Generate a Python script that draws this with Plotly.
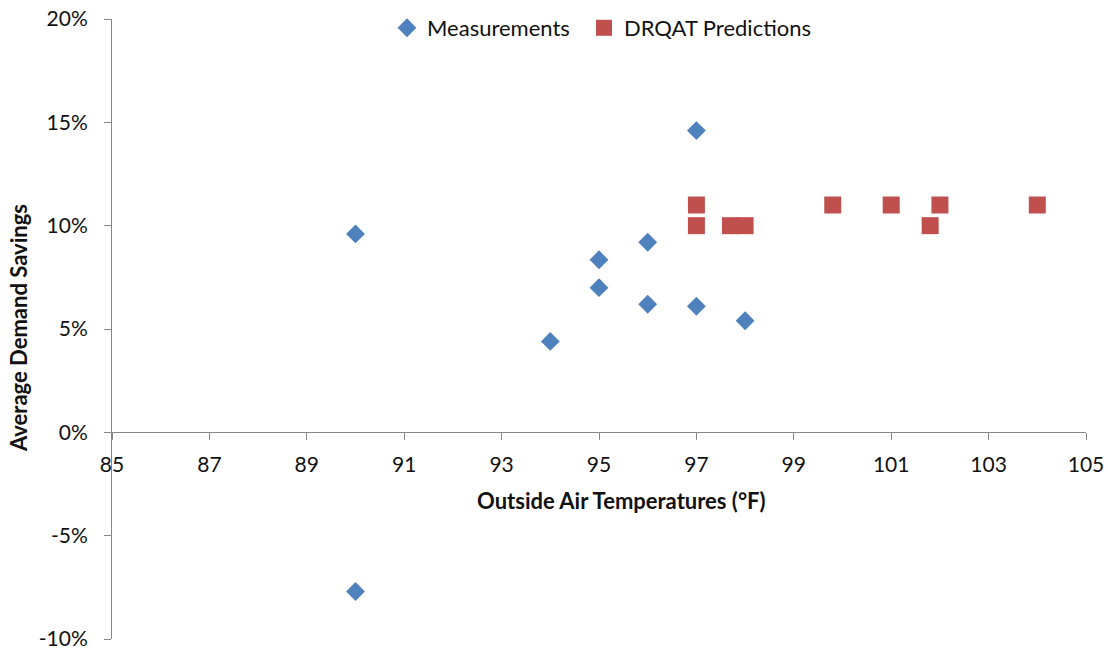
import plotly.graph_objects as go

meas_x = [90, 90, 94, 95, 95, 96, 96, 97, 97, 98]
meas_y = [0.096, -0.077, 0.044, 0.0835, 0.070, 0.092, 0.062, 0.146, 0.061, 0.054]

pred_x = [97, 97, 97.7, 98, 99.8, 101, 101.8, 102, 104]
pred_y = [0.11, 0.10, 0.10, 0.10, 0.11, 0.11, 0.10, 0.11, 0.11]

x_ticks = [85, 87, 89, 91, 93, 95, 97, 99, 101, 103, 105]
y_ticks = [-0.10, -0.05, 0.0, 0.05, 0.10, 0.15, 0.20]
y_tick_text = ["-10%", "-5%", "0%", "5%", "10%", "15%", "20%"]

FONT = "Lato"
axis_color = "#868686"
TICK_SIZE = 21
TITLE_SIZE = 22
LEGEND_SIZE = 22

fig = go.Figure()
fig.add_trace(go.Scatter(
    x=meas_x, y=meas_y, mode="markers", name="Measurements", legend="legend",
    marker=dict(symbol="diamond", size=14.5, color="#4F81BD", line=dict(width=0)),
))
fig.add_trace(go.Scatter(
    x=pred_x, y=pred_y, mode="markers", name="DRQAT Predictions", legend="legend2",
    marker=dict(symbol="square", size=17, color="#C0504D", line=dict(width=0)),
))

leg_common = dict(orientation="h", xanchor="left", yanchor="middle",
                  font=dict(size=LEGEND_SIZE), itemwidth=30, bgcolor="rgba(0,0,0,0)",
                  y=(639 - 28) / 620)

fig.update_layout(
    width=1108, height=652,
    margin=dict(l=112, r=22, t=19, b=13, autoexpand=False),
    paper_bgcolor="white", plot_bgcolor="white",
    font=dict(family=FONT, size=TICK_SIZE, color="#111111"),
    showlegend=True,
    legend=dict(x=(387 - 112) / 974, **leg_common),
    legend2=dict(x=(584 - 112) / 974, **leg_common),
    xaxis=dict(range=[85, 105], tickvals=x_ticks, ticktext=[str(v) for v in x_ticks],
               showgrid=False, zeroline=False, showline=True, linecolor=axis_color, linewidth=1,
               ticks="outside", ticklen=7, tickcolor=axis_color, automargin=False,
               anchor="free", position=1/3, tickfont=dict(size=TICK_SIZE),
               ticklabelstandoff=6),
    yaxis=dict(range=[-0.10, 0.20], tickvals=y_ticks, ticktext=y_tick_text,
               showgrid=False, zeroline=False, showline=True, linecolor=axis_color, linewidth=1,
               ticks="outside", ticklen=7, tickcolor=axis_color, tickfont=dict(size=TICK_SIZE),
               automargin=False, ticklabelstandoff=12),
)

fig.add_annotation(text="<b>Outside Air Temperatures (°F)</b>", xref="paper", yref="paper",
                   x=(621 - 112) / 974, y=(639 - 500) / 620, xanchor="center", yanchor="middle",
                   showarrow=False, font=dict(size=TITLE_SIZE, family=FONT))
fig.add_annotation(text="<b>Average Demand Savings</b>", xref="paper", yref="paper",
                   x=(18 - 112) / 974, y=(639 - 328) / 620, xanchor="center", yanchor="middle",
                   textangle=-90, showarrow=False, font=dict(size=TITLE_SIZE, family=FONT))

fig.write_html("out.html")
